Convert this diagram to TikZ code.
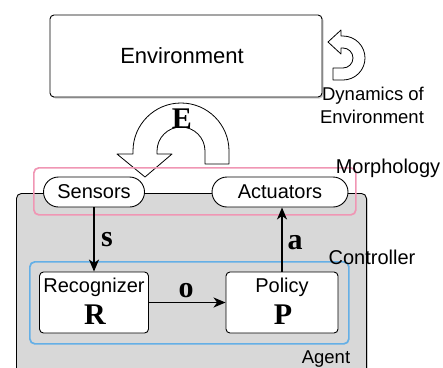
\documentclass[tikz,border=0pt]{standalone}
\usepackage{fontspec}
\setmainfont{Liberation Sans}
\newfontfamily\serifbf{Liberation Serif}
\usetikzlibrary{arrows.meta,shadows}

\definecolor{morphpink}{RGB}{240,150,180}
\definecolor{ctrlblue}{RGB}{100,175,230}
\definecolor{agentgray}{RGB}{216,216,216}

\begin{document}
\begin{tikzpicture}[
  x=1pt, y=-1pt,
  box/.style={draw=black, line width=0.9pt, fill=white, rounded corners=4pt, inner sep=0pt},
  pill/.style={draw=black, line width=0.9pt, fill=white, rounded corners=15pt,
               minimum height=30pt, inner sep=0pt, font=\fontsize{20}{22}\selectfont},
  frame/.style={line width=1.7pt, rounded corners=5pt, inner sep=0pt, anchor=north west},
  flow/.style={-{Stealth[length=12pt,width=10pt,inset=3.5pt]}, line width=1.7pt},
  hollow/.style={draw=black, fill=white, line width=0.8pt, line join=round},
  lbl/.style={inner sep=0pt, anchor=base, font=\fontsize{20}{22}\selectfont},
  small/.style={inner sep=0pt, anchor=base, font=\fontsize{18.5}{20}\selectfont},
  sym/.style={inner sep=0pt, anchor=base, font=\serifbf\bfseries\fontsize{30}{30}\selectfont},
  shade/.style={drop shadow={shadow xshift=1.5pt, shadow yshift=-1.5pt, opacity=0.4}}
]
\useasboundingbox (0,0) rectangle (443,367);

% environment
\node[box, shade, minimum width=272pt, minimum height=82pt] (env) at (186,56) {};
\node[lbl, font=\fontsize{22}{24}\selectfont] (envtxt) at (182,63) {Environment};

% self-loop of the environment
\draw[hollow] (333,80) -- (343,80) arc[start angle=90, end angle=-90, radius=22]
  -- (341,36) -- (341,30) -- (328,42) -- (341,54) -- (341,48) -- (343,48)
  arc[start angle=-90, end angle=90, radius=10] -- (333,68) -- cycle;
\node[small] (dyn1) at (373,100) {Dynamics of};
\node[small] (dyn2) at (372,123) {Environment};

% interaction arrow E
\draw[hollow] (205,164) -- (229,164) -- (229,151) arc[start angle=0, end angle=-180, radius=48]
  -- (133,154) -- (117,154) -- (145,177) -- (172,154) -- (157,154) -- (157,151)
  arc[start angle=180, end angle=360, radius=24] -- cycle;
\node[sym] (elbl) at (182,128) {E};

% agent
\node[frame, draw=black, line width=0.9pt, fill=agentgray, shade,
      minimum width=350pt, minimum height=200pt] (agent) at (16,193) {};
\node[lbl, font=\fontsize{18.5}{20}\selectfont] (agenttxt) at (326,363) {Agent};

% morphology frame and body parts
\node[frame, draw=morphpink, minimum width=322pt, minimum height=47pt] (morph) at (33,167) {};
\node[pill, minimum width=101pt] (sens) at (94,192) {Sensors};
\node[pill, minimum width=136pt] (act) at (280,192) {Actuators};
\node[lbl] (morphtxt) at (388,173) {Morphology};

% controller
\node[frame, draw=ctrlblue, minimum width=319pt, minimum height=82pt] (ctrl) at (29,261) {};
\node[lbl] (ctrltxt) at (372,264) {Controller};

\node[box, minimum width=109pt, minimum height=61pt] (rec) at (94,302.5) {};
\node[lbl] (rectxt) at (94,292) {Recognizer};
\node[sym] (rsym) at (95,324) {R};

\node[box, minimum width=112pt, minimum height=61pt] (pol) at (282,302.5) {};
\node[lbl] (poltxt) at (282,292) {Policy};
\node[sym] (psym) at (283,324) {P};

% signal flow
\draw[flow] (sens.south) -- (sens.south |- rec.north);
\node[sym] (slbl) at (107,246) {s};
\draw[flow] (rec.east) -- (pol.west);
\node[sym] (olbl) at (186,297) {o};
\draw[flow] (pol.north) -- (pol.north |- act.south);
\node[sym] (albl) at (295,249) {a};
\end{tikzpicture}
\end{document}
